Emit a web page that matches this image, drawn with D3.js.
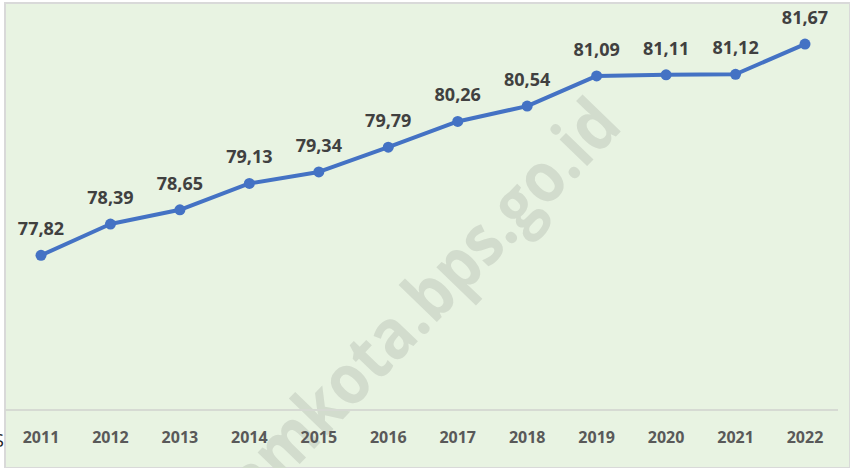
<!DOCTYPE html>
<html>
<head>
<meta charset="utf-8">
<script src="https://cdn.jsdelivr.net/npm/d3@7"></script>
<style>
  html, body { margin: 0; padding: 0; background: #fff; }
  svg { display: block; }
</style>
</head>
<body>
<svg id="chart" width="850" height="468"></svg>
<script>
// chart data
const years = ['2011', '2012', '2013', '2014', '2015', '2016', '2017', '2018', '2019', '2020', '2021', '2022'];
const values = [77.82, 78.39, 78.65, 79.13, 79.34, 79.79, 80.26, 80.54, 81.09, 81.11, 81.12, 81.67];
const yDomain = [75, 82];

const width = 850, height = 468;
const svg = d3.select('#chart');

// cut-off source note on the left
svg.append('text')
  .attr('x', -6).attr('y', 447)
  .style('font', '18px "Open Sans", sans-serif')
  .style('fill', '#222')
  .text('S');

// chart area
svg.append('rect')
  .attr('x', 5).attr('y', 3)
  .attr('width', width - 5).attr('height', height - 3)
  .style('fill', '#E8F3E2')
  .style('stroke', '#D9D9D9')
  .style('stroke-width', 2);

const x = d3.scalePoint().domain(years).range([41, 805]);
const y = d3.scaleLinear().domain(yDomain).range([410, 26]);

// watermark
svg.append('text')
  .attr('transform', 'translate(624,128) rotate(-46) scale(0.88,1)')
  .attr('text-anchor', 'end')
  .style('font', 'bold 70px "Open Sans", sans-serif')
  .style('fill', '#D2DCCD')
  .text('mataramkota.bps.go.id');

// baseline
svg.append('line')
  .attr('x1', 5).attr('x2', 838)
  .attr('y1', y(yDomain[0])).attr('y2', y(yDomain[0]))
  .style('stroke', '#D6DAD3')
  .style('stroke-width', 2);

// x axis labels
svg.append('g')
  .selectAll('text')
  .data(years)
  .join('text')
  .attr('x', d => x(d))
  .attr('y', 443)
  .attr('text-anchor', 'middle')
  .style('font', 'bold 16px "Open Sans", sans-serif')
  .style('fill', '#595959')
  .text(d => d);

const pts = years.map((d, i) => ({ year: d, value: values[i] }));

const line = d3.line()
  .x(d => x(d.year))
  .y(d => y(d.value));

svg.append('path')
  .datum(pts)
  .attr('d', line)
  .style('fill', 'none')
  .style('stroke', '#4472C4')
  .style('stroke-width', 4)
  .style('stroke-linejoin', 'round');

svg.append('g')
  .selectAll('circle')
  .data(pts)
  .join('circle')
  .attr('cx', d => x(d.year))
  .attr('cy', d => y(d.value))
  .attr('r', 5.5)
  .style('fill', '#4472C4');

// value labels
svg.append('g')
  .selectAll('text')
  .data(pts)
  .join('text')
  .attr('x', d => x(d.year))
  .attr('y', d => y(d.value) - 20)
  .attr('text-anchor', 'middle')
  .style('font', 'bold 18px "Open Sans", sans-serif')
  .style('fill', '#404040')
  .text(d => d3.format('.2f')(d.value).replace('.', ','));
</script>
</body>
</html>
